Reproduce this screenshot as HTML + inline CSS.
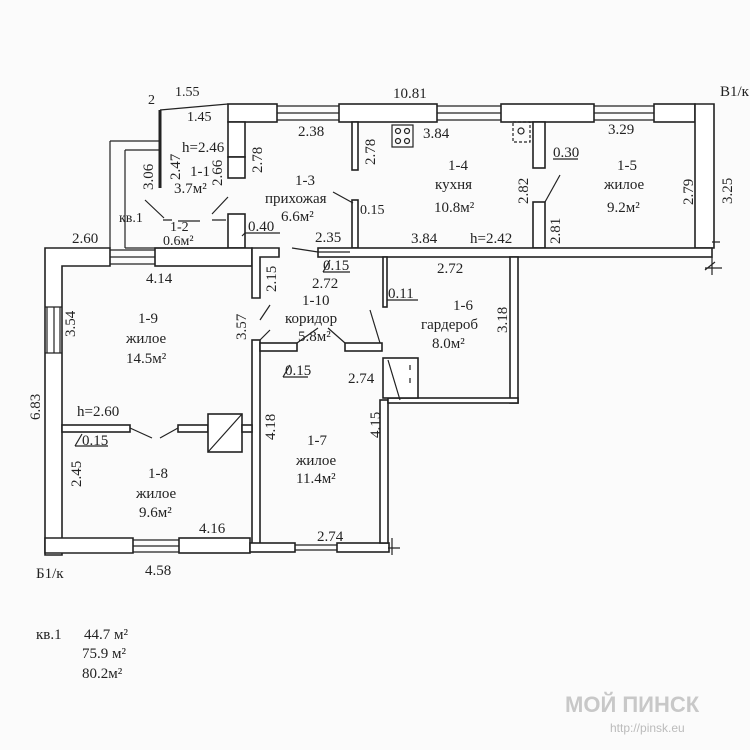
<!DOCTYPE html>
<html><head><meta charset="utf-8"><style>
html,body{margin:0;padding:0;background:#fbfbfb;}
svg{display:block}
text{font-family:"Liberation Serif",serif;font-size:15px;fill:#222}
.s{font-size:14px}
</style></head><body>
<svg width="750" height="750" viewBox="0 0 750 750" xmlns="http://www.w3.org/2000/svg">
<rect width="750" height="750" fill="#fbfbfb"/>
<g fill="#fff" stroke="#222" stroke-width="1.6">
<rect x="228" y="104" width="49" height="18"/>
<rect x="339" y="104" width="98" height="18"/>
<rect x="501" y="104" width="93" height="18"/>
<rect x="654" y="104" width="41" height="18"/>
<path d="M695 104 H714 V248 H695 Z"/>
<rect x="228" y="122" width="17" height="35"/>
<rect x="228" y="157" width="17" height="21"/>
<rect x="352" y="122" width="6" height="48"/>
<rect x="352" y="200" width="6" height="48"/>
<rect x="533" y="122" width="12" height="46"/>
<rect x="533" y="202" width="12" height="46"/>
<rect x="318" y="248" width="394" height="9"/>
<rect x="228" y="214" width="17" height="34"/>
<path d="M45 248 H110 V266 H62 V555 H45 Z"/>
<rect x="155" y="248" width="97" height="18"/>
<path d="M252 248 H279 V257 H260 V298 H252 Z"/>
<rect x="252" y="340" width="8" height="205"/>
<path d="M45 538 H133 V553 H45 Z"/>
<rect x="179" y="538" width="71" height="15"/>
<rect x="250" y="543" width="45" height="9"/>
<rect x="337" y="543" width="52" height="9"/>
<rect x="380" y="400" width="8" height="143"/>
<rect x="62" y="425" width="68" height="7"/>
<rect x="178" y="425" width="30" height="7"/>
<rect x="208" y="414" width="34" height="38"/>
<rect x="242" y="425" width="10" height="7"/>
<rect x="260" y="343" width="37" height="8"/>
<rect x="345" y="343" width="37" height="8"/>
<rect x="510" y="257" width="8" height="146"/>
<rect x="388" y="398" width="130" height="5"/>
<rect x="383" y="257" width="4" height="50"/>
<rect x="383" y="358" width="35" height="40"/>
</g>
<g stroke="#222" stroke-width="1.2" fill="none">
<path d="M277 106 H339 M277 113 H339 M277 120 H339 M437 106 H501 M437 113 H501 M437 120 H501 M594 106 H654 M594 113 H654 M594 120 H654"/>
<path d="M110 250 H155 M110 257 H155 M110 264 H155"/>
<path d="M47 307 V353 M54 307 V353 M60 307 V353 M45 307 H62 M45 353 H62"/>
<path d="M133 540 H179 M133 546 H179 M133 552 H179"/>
<path d="M295 545 H337 M295 550 H337"/>
<path d="M160 110 L228 104 M160 110 V188 M110 141 H160 M110 141 V248 M125 150 H160 M125 150 V248 M125 248 H228"/>
<path d="M160 188 V110" stroke-width="3"/>
<path d="M145 200 L164 218 M212 214 L228 197 M163 220 H172 M178 221 H200 M212 220 H226"/>
<path d="M292 248 L318 252 M318 252 H350"/>
<path d="M333 192 L353 203"/>
<path d="M545 202 L560 175"/>
<path d="M260 320 L270 305 M260 340 L270 330"/>
<path d="M297 343 L318 328 M345 343 L328 328"/>
<path d="M370 310 L380 343"/>
<path d="M130 428 L152 438 M178 428 L160 438"/>
<path d="M208 452 L242 414"/>
<path d="M388 360 L400 400 M410 365 v5 M410 378 v5"/>
<rect x="392" y="125" width="21" height="22"/>
<circle cx="398" cy="131" r="2.5"/><circle cx="407" cy="131" r="2.5"/><circle cx="398" cy="141" r="2.5"/><circle cx="407" cy="141" r="2.5"/>
<rect x="513" y="122" width="17" height="20" stroke-dasharray="3 2"/>
<circle cx="521" cy="131" r="3"/>
<path d="M245 233 H280 M245 233 L242 236"/>
<path d="M323 272 H350 M323 272 L330 260"/>
<path d="M553 159 H578"/>
<path d="M387 300 H418"/>
<path d="M283 377 H308 M283 377 L290 365"/>
<path d="M75 446 H108 M75 446 L82 434"/>
<path d="M712 242 H720 M705 270 L715 262 M712 257 V275 M705 268 H722"/>
<path d="M392 538 V555 M388 548 H400"/>
</g>
<text x="175" y="96" class="s">1.55</text>
<text x="148" y="104" class="s">2</text>
<text x="187" y="121" class="s">1.45</text>
<text x="393" y="98">10.81</text>
<text x="720" y="96">B1/к</text>
<text x="298" y="136">2.38</text>
<text x="423" y="138">3.84</text>
<text x="608" y="134">3.29</text>
<text x="182" y="152">h=2.46</text>
<text x="190" y="176">1-1</text>
<text x="174" y="193">3.7м²</text>
<text x="295" y="185">1-3</text>
<text x="265" y="203">прихожая</text>
<text x="281" y="221">6.6м²</text>
<text x="448" y="170">1-4</text>
<text x="435" y="189">кухня</text>
<text x="434" y="212">10.8м²</text>
<text x="617" y="170">1-5</text>
<text x="604" y="189">жилое</text>
<text x="607" y="212">9.2м²</text>
<text x="553" y="157">0.30</text>
<text x="360" y="214" class="s">0.15</text>
<text x="248" y="231">0.40</text>
<text x="119" y="222" class="s">кв.1</text>
<text x="170" y="231" class="s">1-2</text>
<text x="163" y="245" class="s">0.6м²</text>
<text x="72" y="243">2.60</text>
<text x="315" y="242">2.35</text>
<text x="411" y="243">3.84</text>
<text x="470" y="243">h=2.42</text>
<text x="146" y="283">4.14</text>
<text x="323" y="270">0.15</text>
<text x="312" y="288">2.72</text>
<text x="437" y="273">2.72</text>
<text x="388" y="298">0.11</text>
<text x="302" y="305">1-10</text>
<text x="285" y="323">коридор</text>
<text x="298" y="341">5.8м²</text>
<text x="453" y="310">1-6</text>
<text x="421" y="329">гардероб</text>
<text x="432" y="348">8.0м²</text>
<text x="138" y="323">1-9</text>
<text x="126" y="343">жилое</text>
<text x="126" y="363">14.5м²</text>
<text x="285" y="375">0.15</text>
<text x="348" y="383">2.74</text>
<text x="77" y="416">h=2.60</text>
<text x="82" y="445">0.15</text>
<text x="307" y="445">1-7</text>
<text x="296" y="465">жилое</text>
<text x="296" y="483">11.4м²</text>
<text x="148" y="478">1-8</text>
<text x="136" y="498">жилое</text>
<text x="139" y="517">9.6м²</text>
<text x="199" y="533">4.16</text>
<text x="317" y="541">2.74</text>
<text x="145" y="575">4.58</text>
<text x="36" y="578">Б1/к</text>
<text x="36" y="639">кв.1</text>
<text x="84" y="639">44.7 м²</text>
<text x="82" y="658">75.9 м²</text>
<text x="82" y="678">80.2м²</text>
<g class="s">
<text transform="translate(153,190) rotate(-90)">3.06</text>
<text transform="translate(180,180) rotate(-90)">2.47</text>
<text transform="translate(222,186) rotate(-90)">2.66</text>
<text transform="translate(262,173) rotate(-90)">2.78</text>
<text transform="translate(375,165) rotate(-90)">2.78</text>
<text transform="translate(528,204) rotate(-90)">2.82</text>
<text transform="translate(560,244) rotate(-90)">2.81</text>
<text transform="translate(693,205) rotate(-90)">2.79</text>
<text transform="translate(732,204) rotate(-90)">3.25</text>
<text transform="translate(276,292) rotate(-90)">2.15</text>
<text transform="translate(246,340) rotate(-90)">3.57</text>
<text transform="translate(75,337) rotate(-90)">3.54</text>
<text transform="translate(40,420) rotate(-90)">6.83</text>
<text transform="translate(81,487) rotate(-90)">2.45</text>
<text transform="translate(275,440) rotate(-90)">4.18</text>
<text transform="translate(380,438) rotate(-90)">4.15</text>
<text transform="translate(507,333) rotate(-90)">3.18</text>
</g>
<text x="565" y="712" style="font-family:'Liberation Sans',sans-serif;font-weight:bold;font-size:22px;fill:#c8c8c8">МОЙ ПИНСК</text>
<text x="610" y="732" style="font-family:'Liberation Sans',sans-serif;font-size:12px;fill:#bbb">http://pinsk.eu</text>
</svg>
</body></html>
